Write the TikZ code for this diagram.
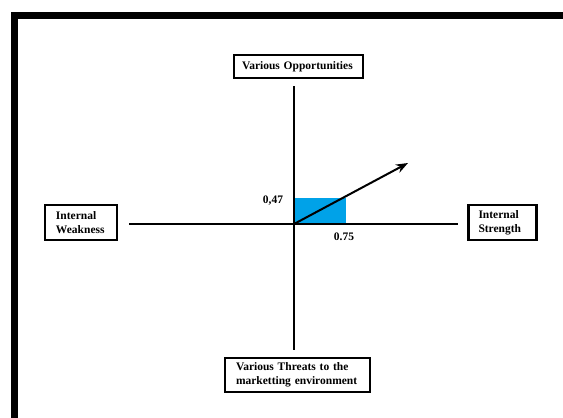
\documentclass[tikz,border=0pt]{standalone}
\usepackage{fontspec}
\setmainfont{Liberation Serif}
\usetikzlibrary{arrows.meta}
\definecolor{swotblue}{RGB}{0,162,232}

\begin{document}
\begin{tikzpicture}[x=1pt, y=-1pt,
      box/.style={draw, line width=2.5pt, align=left, inner xsep=11pt, inner ysep=0pt, font=\fontsize{11.5}{14}\selectfont\bfseries},
      val/.style={inner sep=0pt, font=\fontsize{11.5}{14}\selectfont\bfseries},
      axis/.style={line width=2.2pt},
      arr/.style={-{Stealth[length=12pt, width=9pt]}, line width=2pt}
    ]
      \useasboundingbox (0,0) rectangle (563,418);
      % frame
      \fill (11,12) rectangle (563,19);
      \fill (11,12) rectangle (18,418);
      % boxes
      \node[box, text width=113pt, minimum height=23pt, inner xsep=8pt] (opp)  at (298.5,66.5) {Various Opportunities};
      \node[box, text width=50pt,  minimum height=35pt] (weak) at (81,222.5)   {Internal\\Weakness};
      \node[box, text width=48pt,  minimum height=35pt, inner xsep=10pt] (str)  at (502.5,222.5) {Internal\\Strength};
      \node[box, text width=123pt, minimum height=34pt] (thr)  at (297.5,375)  {Various Threats to the\\marketting environment};
      % axes
      \coordinate (o)  at (294,224);
      \coordinate (up) at (294,86);
      \coordinate (dn) at (294,350);
      \coordinate (lf) at (129,224);
      \coordinate (rt) at (458,224);
      \coordinate (tip) at (408,163);
      \fill[swotblue] (o) rectangle (346,198);
      \draw[axis] (up)--(dn);
      \draw[axis] (lf)--(rt);
      \draw[arr] (o)--(tip);
      % values
      \node[val] (v47) at (273,201) {0,47};
      \node[val] (v75) at (344,237) {0.75};
    \end{tikzpicture}
\end{document}
